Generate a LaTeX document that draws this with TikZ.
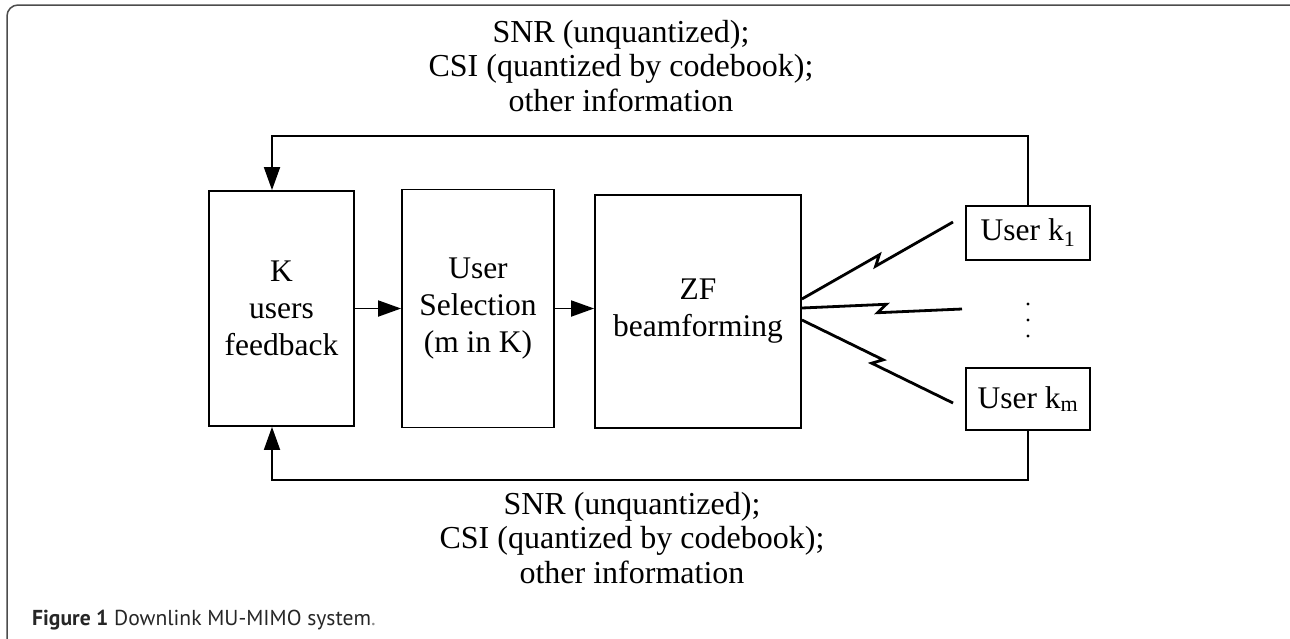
\documentclass[tikz,border=0pt]{standalone}
\usepackage{fontspec}
\setmainfont{Liberation Serif}
\newfontfamily\capfont{PT Sans}
\usetikzlibrary{arrows.meta,calc}
\begin{document}
\begin{tikzpicture}[x=1pt,y=-1pt,
  blk/.style={draw, line width=1.8pt, align=center, inner sep=0pt, font=\fontsize{31.5}{37}\selectfont},
  lbl/.style={align=center, inner sep=0pt, font=\fontsize{32}{34.5}\selectfont},
  arr/.style={line width=1.8pt, -{Triangle[length=23pt,width=16pt]}},
  bolt/.style={line width=2.8pt, line join=miter},
  frame/.style={line width=1.5pt, draw=black!70, rounded corners=11pt},
  dot/.style={fill=black}
]
\useasboundingbox (0,0) rectangle (1290,638);
\begin{scope}
  \clip (0,0) rectangle (1290,638);
  \draw[frame] (7,5) rectangle (1300,660);
\end{scope}

\node[blk, minimum width=145pt, minimum height=235pt] (fb) at (281.5,308.5) {K\\users\\feedback};
\node[blk, minimum width=152pt, minimum height=238pt] (sel) at (478,308.5) {User\\Selection\\(m in K)};
\node[blk, minimum width=206pt, minimum height=233pt] (zf) at (698,311.5) {ZF\\beamforming};
\node[blk, minimum width=124pt, minimum height=54pt] (u1) at (1028,233) {User k\textsubscript{1}};
\node[blk, minimum width=124pt, minimum height=62pt] (um) at (1028,399) {User k\textsubscript{m}};

\draw[arr] (fb.east) -- (sel.west);
\draw[arr] (sel.east) -- (sel.east -| zf.west);

\draw[arr] (u1.north) -- ++(0,-69) -| ($(fb.north)+(-9.5,0)$);
\draw[arr] (um.south) -- ++(0,49) -| ($(fb.south)+(-9.5,0)$);

\node[lbl] (tlab) at (621,66) {SNR (unquantized);\\CSI (quantized by codebook);\\other information};
\node[lbl] (blab) at (632,538) {SNR (unquantized);\\CSI (quantized by codebook);\\other information};

\coordinate (b1s) at ($(zf.east)+(0,-12.5)$);
\coordinate (b2s) at ($(zf.east)+(0,-3.5)$);
\coordinate (b3s) at ($(zf.east)+(0,8.5)$);
\coordinate (b1e) at (953,222);
\coordinate (b2e) at (962,309);
\coordinate (b3e) at (953,403);
\foreach \s/\e in {b1s/b1e,b2s/b2e,b3s/b3e}{
  \draw[bolt] (\s) -- ($(\s)!0.5!(\e)!6pt!45:(\e)$) -- ($(\s)!0.5!(\e)!6pt!45:(\s)$) -- (\e);
}

\fill[dot] (1028,304) circle (1.6pt);
\fill[dot] (1028,320) circle (1.6pt);
\fill[dot] (1028,336) circle (1.6pt);

\node[anchor=west, inner sep=0pt, text=black!85, font=\capfont\fontsize{21.6}{26}\selectfont] (cap) at (32,620) {\textbf{Figure 1} Downlink MU-MIMO system{\color{black!45}.}};
\end{tikzpicture}
\end{document}
